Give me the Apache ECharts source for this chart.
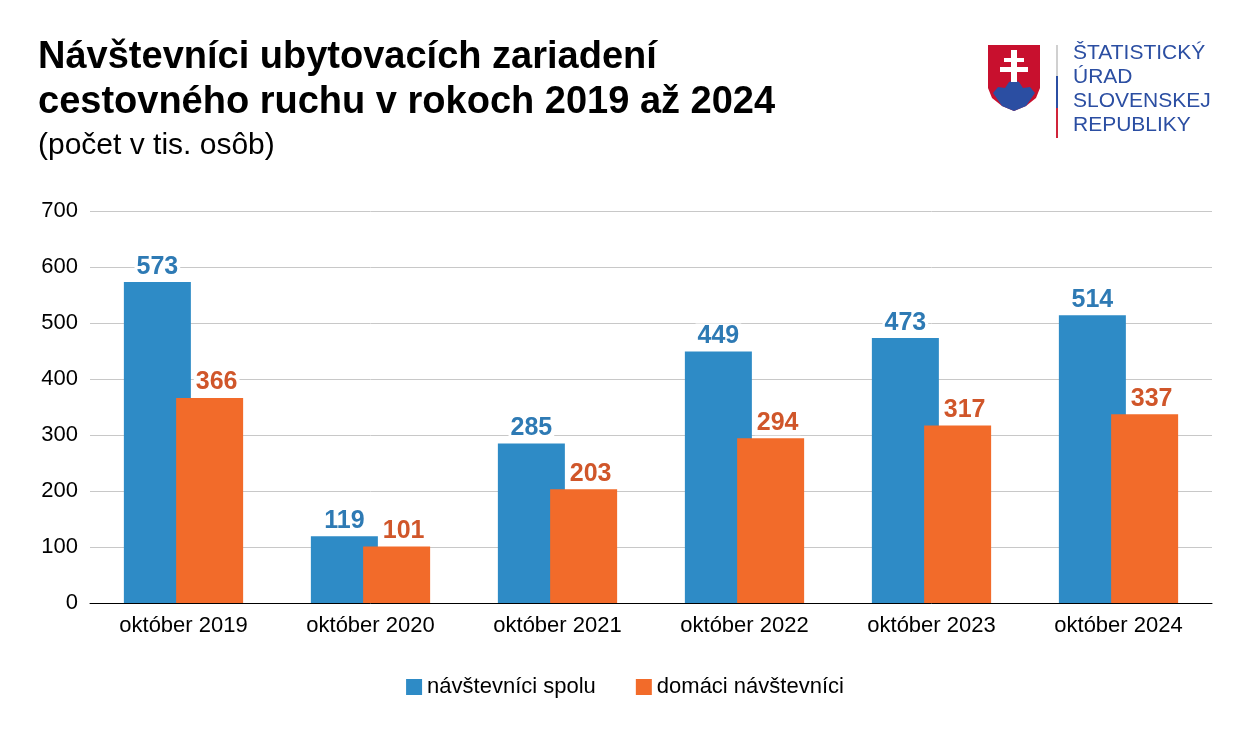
<!DOCTYPE html>
<html><head><meta charset="utf-8">
<script src="https://cdn.jsdelivr.net/npm/echarts@6/dist/echarts.min.js"></script>
<style>html,body{margin:0;background:#fff}#c{width:1250px;height:732px}</style>
</head><body><div id="c"></div>
<script>
const categories = ['október 2019','október 2020','október 2021','október 2022','október 2023','október 2024'];
const spolu = [573, 119, 285, 449, 473, 514];
const domaci = [366, 101, 203, 294, 317, 337];
const seriesNames = ['návštevníci spolu', 'domáci návštevníci'];

const chart = echarts.init(document.getElementById('c'));
const F = 'Liberation Sans, Arial, sans-serif';
chart.setOption({
  animation: false,
  textStyle: { fontFamily: F },
  title: [
    { text: 'Návštevníci ubytovacích zariadení\ncestovného ruchu v rokoch 2019 až 2024', left: 33, top: 30,
      textStyle: { fontSize: 38, fontWeight: 'bold', color: '#000', lineHeight: 45, fontFamily: F } },
    { text: '(počet v tis. osôb)', left: 33, top: 126, textStyle: { fontSize: 30, fontWeight: 'normal', color: '#000', fontFamily: F } }
  ],
  graphic: [
    { type: 'polygon', shape: { points: [[988,45],[1040,45],[1040,88],[1036,98],[1026,106],[1014,111],[1002,106],[992,98],[988,88]] }, style: { fill: '#C8102E' } },
    { type: 'polygon', shape: { points: [[993,93],[998,87],[1005,88],[1009,82],[1014,80],[1019,82],[1023,88],[1030,87],[1035,93],[1026,106],[1014,111],[1002,106]] }, style: { fill: '#2B4EA2' } },
    { type: 'rect', shape: { x: 1011, y: 50, width: 6, height: 32 }, style: { fill: '#fff' } },
    { type: 'rect', shape: { x: 1004, y: 58, width: 20, height: 4 }, style: { fill: '#fff' } },
    { type: 'rect', shape: { x: 1000, y: 67, width: 28, height: 5 }, style: { fill: '#fff' } },
    { type: 'rect', shape: { x: 1056, y: 45, width: 2, height: 31 }, style: { fill: '#d0d0d0' } },
    { type: 'rect', shape: { x: 1056, y: 76, width: 2, height: 32 }, style: { fill: '#2B4EA2' } },
    { type: 'rect', shape: { x: 1056, y: 108, width: 2, height: 30 }, style: { fill: '#D0243A' } },
    { type: 'text', left: 1073, top: 41, style: { text: 'ŠTATISTICKÝ\nÚRAD\nSLOVENSKEJ\nREPUBLIKY', fill: '#2B4EA2', font: '21px ' + F, lineHeight: 24 } }
  ],
  legend: {
    top: 671, left: 'center', itemWidth: 16, itemHeight: 16, itemGap: 40, icon: 'rect',
    textStyle: { fontSize: 22, color: '#000' }, data: seriesNames
  },
  grid: { left: 90, right: 38, top: 211, bottom: 129 },
  xAxis: {
    type: 'category', data: categories,
    axisLine: { lineStyle: { color: '#000' } }, axisTick: { show: false },
    axisLabel: { fontSize: 22, color: '#000', margin: 12 }
  },
  yAxis: {
    type: 'value', min: 0, max: 700, interval: 100,
    axisLabel: { fontSize: 22, color: '#000', margin: 12 },
    splitLine: { lineStyle: { color: '#c8c8c8' } }
  },
  series: [
    { name: seriesNames[0], type: 'bar', data: spolu, barWidth: 67, barGap: '-22%',
      itemStyle: { color: '#2E8BC6' },
      label: { show: true, position: 'top', distance: 3, fontSize: 25, fontWeight: 'bold', color: '#2E7AB4', backgroundColor: '#fff', padding: [0, 2] } },
    { name: seriesNames[1], type: 'bar', data: domaci, barWidth: 67,
      itemStyle: { color: '#F26B2A' },
      label: { show: true, position: 'top', distance: 3, offset: [7, 0], fontSize: 25, fontWeight: 'bold', color: '#D0562A', backgroundColor: '#fff', padding: [0, 2] } }
  ]
});
</script></body></html>
